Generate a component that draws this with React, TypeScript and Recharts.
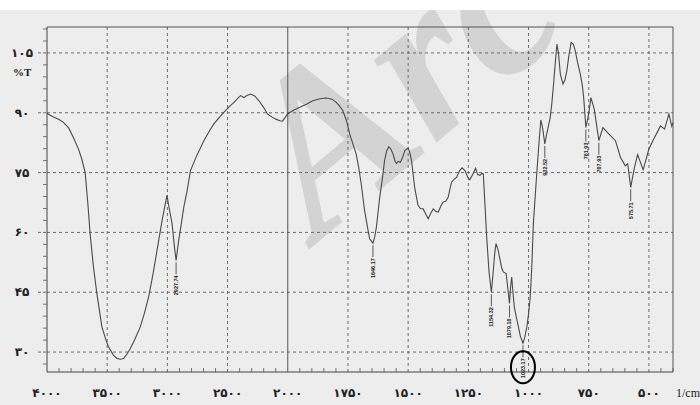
import React from "react";
import { LineChart, Line, XAxis, YAxis, ReferenceLine, Customized } from "recharts";

// FTIR spectrum (wavenumber in 1/cm, %T)
const wavenumbers = [
  4000, 3950, 3900, 3864, 3820, 3781, 3740, 3711, 3683, 3660, 3642, 3614, 3586, 3560, 3544, 3510, 3489, 3450, 3419,
  3390, 3364, 3335, 3308, 3270, 3225, 3190, 3156, 3120, 3086, 3044, 3020, 3003, 2985, 2961, 2940, 2927.74, 2906, 2885,
  2864, 2836, 2808, 2760, 2697, 2650, 2614, 2570, 2531, 2490, 2447, 2410, 2392, 2364, 2340, 2308, 2275, 2239, 2200,
  2169, 2130, 2100, 2065, 2044, 2020, 2003, 1976, 1952, 1921, 1896, 1866, 1841, 1816, 1799, 1786, 1771, 1756, 1743,
  1726, 1716, 1706, 1695, 1681, 1668, 1660, 1646.17, 1639, 1632, 1618, 1606, 1598, 1589, 1580, 1571, 1563, 1554, 1549,
  1541, 1532, 1522, 1514, 1500, 1493, 1486, 1473, 1459, 1449, 1438, 1426, 1417, 1406, 1396, 1386, 1375, 1364, 1355,
  1344, 1334, 1320, 1309, 1299, 1286, 1276, 1264, 1252, 1244, 1232, 1220, 1211, 1202, 1194, 1188, 1181, 1174, 1164,
  1154.32, 1147, 1140, 1135, 1126, 1118, 1111, 1105, 1093, 1087, 1079.1, 1075, 1070, 1064, 1059, 1051, 1042, 1034,
  1023.17, 1016, 1007, 1000, 993, 986, 980, 973, 966, 956, 949, 941, 932.52, 925, 910, 903, 896, 889, 882, 875, 868,
  857, 849, 841, 832, 823, 814, 806, 796, 785, 777, 771, 761.93, 750, 741, 727, 707.93, 691, 667, 639, 618, 598, 588,
  575.71, 560, 547, 524, 500, 480, 452, 435, 417, 405, 400,
];
const transmittance = [
  89.8, 89.0, 88.3, 87.6, 86.2, 83.8, 81.0, 78.4, 75.0, 67.0, 59.7, 51.3, 44.7, 39.5, 36.3, 33.0, 31.3, 29.3, 28.4,
  28.2, 28.4, 29.5, 30.9, 33.2, 36.3, 39.8, 43.8, 49.5, 55.5, 63.0, 66.8, 69.3, 66.0, 62.2, 56.0, 53.0, 58.0, 62.0,
  66.3, 70.5, 75.5, 79.0, 83.0, 85.5, 87.2, 88.8, 90.1, 91.4, 92.6, 93.8, 94.3, 93.8, 94.3, 94.7, 94.2, 93.0, 91.3,
  89.7, 88.9, 88.4, 88.0, 87.9, 88.9, 89.7, 90.6, 91.3, 92.2, 93.0, 93.5, 93.7, 93.4, 92.6, 91.8, 90.5, 88.0, 84.7,
  81.5, 79.7, 76.5, 72.2, 65.5, 61.0, 58.4, 57.3, 58.8, 61.3, 68.8, 74.0, 78.0, 80.5, 81.5, 80.8, 79.7, 77.8, 77.3,
  77.8, 77.6, 79.0, 80.5, 81.2, 80.0, 78.0, 71.3, 66.8, 66.0, 65.9, 64.5, 63.4, 64.8, 65.9, 65.3, 65.1, 66.6, 67.6,
  67.8, 68.8, 72.6, 73.3, 73.8, 75.5, 76.2, 75.5, 73.8, 73.2, 74.5, 76.1, 74.5, 74.3, 74.8, 74.7, 67.0, 59.0, 50.0,
  45.0, 50.0, 55.0, 57.2, 55.5, 53.0, 51.0, 50.1, 49.7, 46.5, 42.2, 46.0, 48.8, 44.5, 41.3, 38.8, 36.3, 34.0,
  32.2, 33.6, 36.3, 39.5, 43.8, 52.0, 62.2, 68.5, 74.7, 83.0, 88.2, 86.0, 82.2, 84.5, 88.8, 92.5, 97.2, 102.5, 107.2, 104.5, 99.7,
  97.2, 98.2, 100.5, 104.5, 107.6, 107.2, 105.5, 102.5, 99.7, 97.0, 93.8, 86.3, 89.7, 93.8, 90.9, 83.0, 86.3, 84.7, 83.0, 78.8, 76.7, 77.2,
  71.3, 76.3, 79.5, 75.7, 80.9, 83.4, 86.7, 85.9, 89.7, 86.6, 87.5,
];

const peakPositions = [2927.74, 1646.17, 1154.32, 1079.1, 1023.17, 932.52, 761.93, 707.93, 575.71];
const peakLabels = ["2927.74", "1646.17", "1154.32", "1079.10", "1023.17", "932.52", "761.93", "707.93", "575.71"];
const circledPeak = "1023.17";

const xTickValues = [4000, 3500, 3000, 2500, 2000, 1750, 1500, 1250, 1000, 750, 500];
const xTickLabels = ["۴۰۰۰", "۳۵۰۰", "۳۰۰۰", "۲۵۰۰", "۲۰۰۰", "۱۷۵۰", "۱۵۰۰", "۱۲۵۰", "۱۰۰۰", "۷۵۰", "۵۰۰"];
const yTickValues = [105, 90, 75, 60, 45, 30];
const yTickLabels = ["۱۰۵", "۹۰", "۷۵", "۶۰", "۴۵", "۳۰"];

// the spectrometer doubles the scale below 2000 1/cm
const toAxis = (wn: number) => (wn >= 2000 ? (4000 - wn) / 500 : 4 + (2000 - wn) / 250);

const data = wavenumbers.map((wn, i) => {
  const p = peakPositions.indexOf(wn);
  return { u: toAxis(wn), t: transmittance[i], label: p >= 0 ? peakLabels[p] : null };
});

const W = 700;
const H = 405;
const LEFT = 47;
const BOTTOM = 372;
const X_MAX = 10.4;
const Y_MIN = 25;
const Y_MAX = 111.5;

const xTicks = Array.from({ length: 53 }, (_, i) => Math.round(i * 2) / 10);
const yTicks = Array.from({ length: 29 }, (_, i) => 27 + i * 3);

const LABEL_FONT = "'DejaVu Sans', 'Liberation Serif', serif";
const GRID = "#6a6a6a";

function XTick(props: any) {
  const { x, payload } = props;
  const idx = xTickValues.findIndex((wn) => Math.abs(toAxis(wn) - payload.value) < 1e-6);
  if (idx < 0) {
    return <line x1={x} x2={x} y1={BOTTOM - 4} y2={BOTTOM} stroke="#555" strokeWidth={0.8} />;
  }
  return (
    <text x={x} y={BOTTOM + 25} textAnchor="middle" fontSize={12} fontWeight="bold" fontFamily={LABEL_FONT} fill="#222">
      {xTickLabels[idx]}
    </text>
  );
}

function YTick(props: any) {
  const { y, payload } = props;
  const idx = yTickValues.indexOf(payload.value);
  if (idx < 0) {
    return <line x1={LEFT - 4} x2={LEFT} y1={y} y2={y} stroke="#555" strokeWidth={0.8} />;
  }
  return (
    <g>
      <line x1={LEFT - 9} x2={LEFT} y1={y} y2={y} stroke={GRID} strokeDasharray="3 2" />
      <text x={22} y={y + 4} textAnchor="middle" fontSize={12} fontWeight="bold" fontFamily={LABEL_FONT} fill="#222">
        {yTickLabels[idx]}
      </text>
    </g>
  );
}

function PeakDot(props: any) {
  const { cx, cy, payload, index } = props;
  if (!payload.label) return <g key={index} />;
  return (
    <g key={index}>
      <line x1={cx} x2={cx} y1={cy + 2} y2={cy + 14} stroke="#333" strokeWidth={0.8} />
      <text
        transform={`translate(${cx + 2}, ${cy + 15}) rotate(-90)`}
        textAnchor="end"
        fontSize={5.5}
        fontWeight="bold"
        fontFamily="'Liberation Sans', sans-serif"
        fill="#222"
      >
        {payload.label}
      </text>
      {payload.label === circledPeak && (
        <ellipse cx={cx} cy={cy + 24} rx={12} ry={16} fill="none" stroke="#000" strokeWidth={2} />
      )}
    </g>
  );
}

function Watermark() {
  return (
    <text
      transform="translate(318, 242) rotate(-40)"
      fontSize={225}
      fontWeight="bold"
      fontStyle="italic"
      fontFamily="'Liberation Serif', serif"
      fill="#d3d3d3"
    >
      Arc
    </text>
  );
}

export default function App() {
  return (
    <div style={{ position: "absolute", left: 0, top: 0, width: W, height: H, background: "#ededed", overflow: "hidden" }}>
      <LineChart width={W} height={H} data={data} margin={{ top: 27, right: 27, left: 0, bottom: 0 }}>
        <XAxis
          type="number"
          dataKey="u"
          domain={[0, X_MAX]}
          ticks={xTicks}
          interval={0}
          tick={<XTick />}
          tickLine={false}
          axisLine={{ stroke: "#444" }}
          height={33}
        />
        <YAxis
          type="number"
          domain={[Y_MIN, Y_MAX]}
          ticks={yTicks}
          interval={0}
          tick={<YTick />}
          tickLine={false}
          axisLine={{ stroke: "#444" }}
          width={LEFT}
        />
        {yTickValues.map((v) => (
          <ReferenceLine key={"h" + v} y={v} stroke={GRID} strokeDasharray="3 3" />
        ))}
        {xTickValues.slice(1).map((wn) => (
          <ReferenceLine
            key={"v" + wn}
            x={toAxis(wn)}
            stroke={wn === 2000 ? "#555" : GRID}
            strokeDasharray={wn === 2000 ? undefined : "3 3"}
          />
        ))}
        <ReferenceLine y={Y_MAX} stroke="#555" />
        <ReferenceLine x={X_MAX} stroke="#555" />
        <Customized component={Watermark} />
        <Line
          type="linear"
          dataKey="t"
          stroke="#4a4a4a"
          strokeWidth={1.1}
          dot={PeakDot}
          activeDot={false}
          isAnimationActive={false}
        />
      </LineChart>
      <div style={{ position: "absolute", left: 0, top: 0, width: W, height: 10, background: "#fff" }} />
      <div style={{ position: "absolute", left: 13, top: 66, fontFamily: "'Liberation Serif', serif", fontWeight: "bold", fontSize: 11, color: "#222" }}>
        %T
      </div>
      <div style={{ position: "absolute", left: 676, top: 386, fontFamily: "'Liberation Serif', serif", fontSize: 12, color: "#222" }}>
        1/cm
      </div>
    </div>
  );
}
